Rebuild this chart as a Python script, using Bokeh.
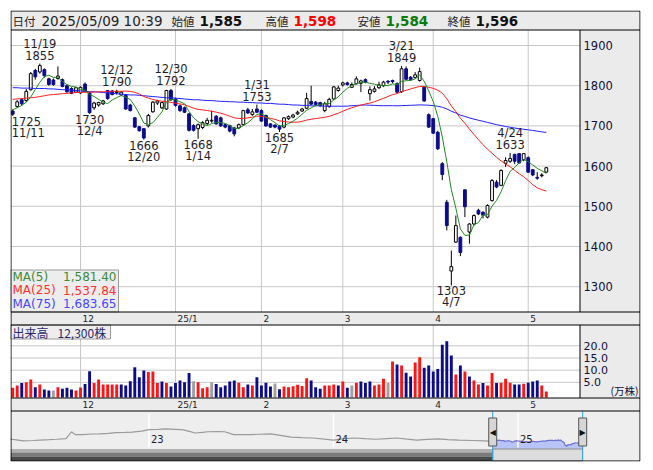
import pandas as pd
from bokeh.plotting import figure
from bokeh.models import Range1d, ColumnDataSource
from bokeh.core.properties import value
from bokeh.embed import file_html
from bokeh.resources import INLINE

# ---------------------------------------------------------------- data
HOLIDAYS = ["2024-12-31", "2025-01-01", "2025-01-02", "2025-01-03", "2025-01-13",
            "2025-02-11", "2025-02-24", "2025-03-20", "2025-04-29", "2025-05-05", "2025-05-06"]
dates = [d for d in pd.bdate_range("2024-11-11", "2025-05-09")
         if d.strftime("%Y-%m-%d") not in HOLIDAYS]

OPEN = [1737, 1748, 1765, 1763, 1790, 1838, 1834, 1840, 1817, 1814,
        1818, 1815, 1800, 1793, 1784, 1782, 1804, 1782, 1745, 1752,
        1755, 1788, 1787, 1783, 1777, 1776, 1752, 1720, 1698, 1693,
        1700, 1735, 1757, 1745, 1742, 1788, 1767, 1750, 1745, 1730,
        1701, 1693, 1696, 1706, 1712, 1724, 1720, 1703, 1701, 1695,
        1695, 1703, 1740, 1728, 1742, 1738, 1726, 1705, 1702, 1700,
        1697, 1718, 1722, 1730, 1737, 1744, 1761, 1759, 1758, 1738,
        1748, 1767, 1788, 1802, 1807, 1796, 1805, 1806, 1815, 1780,
        1786, 1795, 1800, 1811, 1813, 1805, 1785, 1842, 1821, 1820,
        1813, 1796, 1728, 1718, 1684, 1606, 1510, 1339, 1411, 1423,
        1541, 1436, 1456, 1490, 1485, 1473, 1514, 1560, 1552, 1607,
        1612, 1629, 1631, 1616, 1621, 1591, 1572, 1576, 1585]
HIGH = [1741, 1764, 1768, 1792, 1834, 1842, 1855, 1843, 1820, 1818,
        1848, 1818, 1803, 1796, 1797, 1798, 1808, 1785, 1760, 1760,
        1765, 1789, 1789, 1790, 1786, 1778, 1755, 1722, 1700, 1695,
        1730, 1762, 1765, 1760, 1790, 1792, 1770, 1753, 1748, 1732,
        1704, 1706, 1712, 1720, 1738, 1727, 1723, 1706, 1703, 1697,
        1706, 1740, 1745, 1742, 1753, 1741, 1728, 1707, 1704, 1702,
        1722, 1726, 1730, 1738, 1745, 1782, 1800, 1762, 1760, 1760,
        1770, 1799, 1800, 1810, 1810, 1808, 1823, 1815, 1818, 1798,
        1799, 1810, 1812, 1814, 1815, 1808, 1849, 1848, 1824, 1834,
        1845, 1798, 1731, 1720, 1688, 1610, 1516, 1390, 1477, 1425,
        1541, 1458, 1480, 1494, 1488, 1505, 1568, 1565, 1592, 1622,
        1633, 1631, 1632, 1632, 1624, 1593, 1585, 1582, 1598]
LOW = [1725, 1745, 1750, 1759, 1788, 1815, 1830, 1820, 1800, 1800,
       1815, 1796, 1782, 1779, 1782, 1780, 1783, 1730, 1740, 1748,
       1752, 1765, 1776, 1778, 1774, 1740, 1736, 1695, 1686, 1666,
       1696, 1733, 1752, 1742, 1740, 1762, 1748, 1735, 1732, 1686,
       1686, 1668, 1692, 1702, 1708, 1703, 1698, 1694, 1684, 1674,
       1692, 1700, 1730, 1725, 1732, 1710, 1698, 1695, 1694, 1685,
       1694, 1715, 1719, 1727, 1735, 1742, 1752, 1750, 1748, 1734,
       1745, 1765, 1785, 1798, 1800, 1794, 1803, 1784, 1806, 1763,
       1783, 1792, 1797, 1804, 1806, 1782, 1782, 1814, 1812, 1818,
       1810, 1760, 1695, 1680, 1640, 1565, 1440, 1303, 1409, 1376,
       1473, 1407, 1452, 1478, 1470, 1470, 1512, 1545, 1550, 1598,
       1608, 1605, 1606, 1612, 1583, 1575, 1566, 1572, 1584]
CLOSE = [1729, 1760, 1755, 1786, 1830, 1822, 1850, 1825, 1803, 1803,
         1824, 1798, 1785, 1781, 1795, 1796, 1785, 1733, 1757, 1758,
         1762, 1768, 1778, 1786, 1784, 1742, 1738, 1697, 1688, 1670,
         1726, 1759, 1762, 1758, 1788, 1765, 1751, 1738, 1734, 1689,
         1689, 1703, 1708, 1714, 1714, 1705, 1700, 1697, 1687, 1680,
         1703, 1738, 1732, 1735, 1734, 1712, 1700, 1697, 1697, 1692,
         1720, 1723, 1727, 1734, 1742, 1768, 1754, 1753, 1750, 1755,
         1766, 1797, 1794, 1807, 1803, 1803, 1817, 1812, 1808, 1790,
         1792, 1802, 1809, 1809, 1810, 1784, 1842, 1816, 1815, 1827,
         1835, 1762, 1697, 1682, 1643, 1579, 1452, 1350, 1452, 1385,
         1499, 1456, 1477, 1481, 1478, 1502, 1564, 1548, 1589, 1614,
         1619, 1612, 1608, 1631, 1585, 1578, 1570, 1578, 1596]
PREV_CLOSE = 1718

# volume in units of 10,000 shares
VOLUME = [2.8, 3.7, 4.7, 5.1, 6.2, 3.0, 4.1, 2.1, 1.7, 1.7,
          3.0, 2.4, 2.8, 2.1, 1.7, 2.9, 4.3, 9.6, 4.7, 6.2,
          4.1, 4.1, 4.1, 4.1, 4.1, 3.7, 5.5, 11.2, 7.1, 9.9,
          9.2, 9.5, 4.7, 5.4, 4.7, 3.3, 4.7, 5.8, 5.1, 8.8,
          5.5, 5.1, 2.6, 3.0, 5.1, 4.3, 3.0, 3.7, 5.4, 5.8,
          4.8, 3.0, 4.1, 3.7, 7.1, 3.7, 4.8, 3.3, 4.5, 2.2,
          3.3, 3.0, 3.4, 4.0, 3.5, 6.7, 5.8, 3.0, 2.4, 3.7,
          3.7, 4.1, 3.7, 5.4, 2.8, 3.7, 4.8, 5.4, 4.7, 5.4,
          3.7, 4.1, 6.5, 4.7, 13.6, 12.3, 11.9, 8.9, 7.4, 13.1,
          15.3, 11.0, 11.9, 9.5, 10.5, 20.4, 21.9, 16.0, 8.2, 11.9,
          9.5, 7.4, 5.8, 4.1, 4.7, 3.7, 8.8, 4.7, 4.8, 6.5,
          4.8, 4.1, 4.1, 4.4, 4.8, 5.4, 5.8, 3.7, 1.23]

# moving-average values before enough closes are available in the window
MA5_HEAD = [1740, 1745, 1751, 1759]
MA25_HEAD = [1766, 1767, 1768, 1769, 1770, 1771, 1773, 1775, 1777, 1778, 1779, 1780,
             1781, 1782, 1783, 1783, 1784, 1784, 1784, 1785, 1785, 1785, 1786, 1786]
MA75_HEAD = [1795, 1795, 1794, 1794, 1794, 1793, 1793, 1793, 1792, 1792,
             1791, 1790, 1790, 1789, 1788, 1787, 1786, 1785, 1785, 1784,
             1783, 1782, 1781, 1780, 1779, 1778, 1777, 1777, 1776, 1775,
             1774, 1773, 1772, 1771, 1770, 1770, 1769, 1768, 1767, 1766,
             1765, 1765, 1764, 1763, 1763, 1762, 1761, 1761, 1760, 1760,
             1759, 1759, 1758, 1758, 1757, 1757, 1756, 1756, 1755, 1754,
             1754, 1753, 1752, 1752, 1751, 1751, 1750, 1750, 1750, 1749,
             1749, 1749, 1749, 1749]

PRICE_TICKS = [1900, 1800, 1700, 1600, 1500, 1400, 1300]
VOL_TICKS = [20.0, 15.0, 10.0, 5.0]
MONTH_LABELS = ["12", "25/1", "2", "3", "4", "5"]
YEARS = [2023, 2024, 2025]
YEAR_LABELS = ["23", "24", "25"]
HIGH_MARKS = ["11/19", "12/12", "12/30", "1/31", "3/21", "4/24"]
LOW_MARKS = ["11/11", "12/4", "12/20", "1/14", "2/7", "4/7"]

# long-range closing prices for the overview strip (year fraction, price)
NAV_T = [2022.24, 2022.28, 2022.32, 2022.37, 2022.41, 2022.46, 2022.50, 2022.55, 2022.58,
         2022.60, 2022.64, 2022.69, 2022.73, 2022.78, 2022.82, 2022.87, 2022.91, 2022.96,
         2023.00, 2023.05, 2023.09, 2023.14, 2023.18, 2023.22, 2023.25, 2023.29, 2023.32,
         2023.37, 2023.41, 2023.46, 2023.50, 2023.55, 2023.60, 2023.66, 2023.72, 2023.77,
         2023.83, 2023.89, 2023.95, 2024.00, 2024.05, 2024.11, 2024.17, 2024.23, 2024.29,
         2024.34, 2024.40, 2024.45, 2024.51, 2024.57, 2024.62, 2024.68, 2024.75, 2024.82]
NAV_P = [1928, 1850, 1768, 1800, 1832, 1860, 1896, 1950, 2470,
         2250, 2248, 2300, 2312, 2350, 2408, 2420, 2440, 2520,
         2632, 2650, 2696, 2660, 2632, 2500, 2376, 2430, 2472,
         2480, 2472, 2248, 2260, 2248, 2280, 2312, 2180, 2056,
         2020, 1992, 1900, 1832, 1920, 1992, 1940, 1896, 1950,
         1992, 1900, 1832, 1880, 1928, 1870, 1832, 1800, 1768]

N = len(CLOSE)
assert len(dates) == N == len(OPEN) == len(HIGH) == len(LOW) == len(VOLUME)


def moving(head, n):
    out = list(head)
    for i in range(len(head), N):
        out.append(sum(CLOSE[i - n + 1:i + 1]) / n)
    return out


MA5 = moving(MA5_HEAD, 5)
MA25 = moving(MA25_HEAD, 25)
MA75 = moving(MA75_HEAD, 75)

idx = list(range(N))
md = [f"{d.month}/{d.day}" for d in dates]
month_idx = [i for i in range(1, N) if dates[i].month != dates[i - 1].month]
tfrac = [d.year + (d.dayofyear - 1) / 365.0 for d in dates]

# ---------------------------------------------------------------- styles
NAVY = "#0c0c8a"
RED = "#ff1414"
GRAY = "#a0a0a0"
PANEL = "#ebebeb"
GRID = "#c8c8c8"
INK = "#1e1e2a"
FONT = value("DejaVu Sans")
JP = value("Noto Sans CJK JP")

# ---------------------------------------------------------------- figure
NX0, NX1 = 2022.2493, 2025.6640
p = figure(width=653, height=470, output_backend="svg", toolbar_location=None,
           x_range=Range1d(-0.4865, 138.833), y_range=Range1d(865.17, 1987.06),
           x_axis_location=None, y_axis_location=None, title_location=None,
           min_border_left=10, min_border_right=13, min_border_top=10, min_border_bottom=9)
p.grid.visible = False
p.outline_line_color = None
p.background_fill_color = "white"
p.border_fill_color = "white"
p.extra_x_ranges = {"px": Range1d(10, 640), "navx": Range1d(NX0, NX1)}
p.extra_y_ranges = {"py": Range1d(461, 10), "vol": Range1d(-27.43, 157.41),
                    "navy": Range1d(184.6, 34877.0)}
VOL_FLOOR = -1.2


def box(l, r, t, b, fill, line=None, alpha=1.0):
    p.quad(left=[l], right=[r], top=[t], bottom=[b], fill_color=fill, fill_alpha=alpha,
           line_color=line, x_range_name="px", y_range_name="py")


def txt(x, y, s, size, color=INK, align="left", font=FONT, style="normal",
        xr="default", yr="default", xo=0, yo=0, baseline="middle"):
    p.text(x=x, y=y, text=s, text_font=font, text_font_size=f"{size}px", text_color=color,
           text_align=align, text_baseline=baseline, text_font_style=style,
           x_offset=xo, y_offset=yo, x_range_name=xr, y_range_name=yr)


# panel backgrounds
box(10, 640, 10, 29.5, PANEL)
box(579.5, 640, 29.5, 311.5, PANEL)
box(10, 640, 311.5, 324.5, PANEL)
box(579.5, 640, 324.5, 397.5, PANEL)
box(10, 640, 397.5, 410.5, PANEL)
box(10, 640, 410.5, 461, "#eeeeee")

# grid lines
p.segment(x0=month_idx, x1=month_idx, y0=[29.5] * 6, y1=[311.5] * 6,
          line_color=GRID, y_range_name="py")
p.segment(x0=[10] * 7, x1=[579.5] * 7, y0=PRICE_TICKS, y1=PRICE_TICKS,
          line_color=GRID, x_range_name="px")
p.segment(x0=month_idx, x1=month_idx, y0=[324.5] * 6, y1=[397.5] * 6,
          line_color=GRID, y_range_name="py")
p.segment(x0=[10] * 4, x1=[579.5] * 4, y0=VOL_TICKS, y1=VOL_TICKS,
          line_color=GRID, x_range_name="px", y_range_name="vol")

# overview strip
sel0, sel1 = tfrac[0], tfrac[-1]
p.varea(x=tfrac, y1=[184.6] * N, y2=CLOSE, fill_color="#b7c4f5",
        x_range_name="navx", y_range_name="navy")
p.segment(x0=YEARS, x1=YEARS, y0=[413] * 3, y1=[447] * 3, line_color="white",
          line_width=1.5, x_range_name="navx", y_range_name="py")
p.line(x=NAV_T + [tfrac[0]], y=NAV_P + [CLOSE[0]], line_color="#9a9a9a", line_width=1.2,
       x_range_name="navx", y_range_name="navy")
p.line(x=tfrac, y=CLOSE, line_color="#7070d0", line_width=1.2,
       x_range_name="navx", y_range_name="navy")
txt(YEARS, [438] * 3, YEAR_LABELS, 10, xr="navx", yr="py", xo=2)
# scroll bar
for top, bot, col in [(448.5, 452, "#b0b0b0"), (452, 456, "#7a7a7a"), (456, 460.5, "#4a4a4a")]:
    p.quad(left=[NX0], right=[sel0], top=[top], bottom=[bot], fill_color=col, line_color=None,
           x_range_name="navx", y_range_name="py")
p.quad(left=[sel0], right=[sel1], top=[448.5], bottom=[460.5], fill_color="#dcdcdc",
       line_color="#8a8a8a", x_range_name="navx", y_range_name="py")
p.quad(left=[sel1], right=[NX1], top=[448.5], bottom=[460.5], fill_color="#eeeeee",
       line_color=None, x_range_name="navx", y_range_name="py")
p.segment(x0=[sel0, sel1], x1=[sel0, sel1], y0=[411, 411], y1=[460.5, 460.5],
          line_color="#29a3e0", x_range_name="navx", y_range_name="py")
p.rect(x=[sel0, sel1], y=[431.5, 431.5], width=8, height=28, width_units="screen",
       height_units="screen", fill_color="#d6d6d6", line_color="#555555",
       x_range_name="navx", y_range_name="py")
txt([sel0, sel1], [431.5, 431.5], ["◀", "▶"], 8, color="#111111", align="center",
    xr="navx", yr="py")

# volume bars
prev = [PREV_CLOSE] + CLOSE[:-1]
vcol = [RED if c > q else NAVY if c < q else GRAY for c, q in zip(CLOSE, prev)]
p.vbar(x=idx, width=0.64, top=VOLUME, bottom=VOL_FLOOR, fill_color=vcol, line_color=None,
       y_range_name="vol")

# candles
up = [c >= o for o, c in zip(OPEN, CLOSE)]
csrc = ColumnDataSource(dict(
    x=idx, top=[max(o, c) for o, c in zip(OPEN, CLOSE)],
    bottom=[min(o, c) for o, c in zip(OPEN, CLOSE)],
    fill=["white" if u else NAVY for u in up],
    line=["black" if u else NAVY for u in up]))
p.segment(x0=idx, x1=idx, y0=LOW, y1=HIGH, line_color="black", line_width=1)
p.vbar(x="x", width=0.62, top="top", bottom="bottom", fill_color="fill", line_color="line",
       source=csrc)

# moving averages
p.line(idx, MA75, line_color="#2020ff", line_width=1)
p.line(idx, MA25, line_color="#ff2020", line_width=1)
p.line(idx, MA5, line_color="#238a23", line_width=1)

# high / low markers
for m in HIGH_MARKS:
    i = md.index(m)
    txt([i], [HIGH[i]], [m], 11.5, align="center", yo=-20)
    txt([i], [HIGH[i]], [str(HIGH[i])], 11.5, align="center", yo=-8.5)
for m in LOW_MARKS:
    i = md.index(m)
    al, xo = ("left", -1) if i == 0 else ("center", 0)
    txt([i], [LOW[i]], [str(LOW[i])], 11.5, align=al, xo=xo, yo=5.5)
    txt([i], [LOW[i]], [m], 11.5, align=al, xo=xo, yo=17)

# legend box
box(10, 118, 269.5, 311.5, "#ececec", line="#9a9a9a", alpha=0.95)
ma_names = ["MA(5)", "MA(25)", "MA(75)"]
ma_cols = ["#3a8a3a", "#ff3030", "#4646ff"]
ma_last = [f"{MA5[-1]:,.2f}", f"{MA25[-1]:,.2f}", f"{MA75[-1]:,.2f}"]
rows = [276, 289.5, 303]
for k in range(3):
    txt([12], [rows[k]], [ma_names[k]], 12, color=ma_cols[k], xr="px", yr="py")
    txt([116], [rows[k]], [ma_last[k]], 12, color=ma_cols[k], align="right",
        xr="px", yr="py")

# volume caption
box(10, 110, 324.5, 338.5, "#ececec", line="#9a9a9a", alpha=0.95)
txt([12], [331.5], ["出来高"], 12, color="#2a2a6a", font=JP, xr="px", yr="py")
txt([57], [331.5], [f"{int(round(VOLUME[-1] * 10000)):,}株"], 12, color="#2a2a6a",
    font=JP, xr="px", yr="py")

# axis labels
txt([583] * 7, PRICE_TICKS, [str(v) for v in PRICE_TICKS], 11.5, color="#10103a", xr="px")
txt([583] * 4, VOL_TICKS, [f"{v:.1f}" for v in VOL_TICKS], 11, color="#10103a",
    xr="px", yr="vol")
txt([610], [390], ["(万株)"], 10.5, color="#10103a", font=JP, xr="px", yr="py")
txt(month_idx, [318] * 6, MONTH_LABELS, 9, yr="py", xo=2)
txt(month_idx, [404] * 6, MONTH_LABELS, 9, yr="py", xo=2)

# header
o, h, l, c = OPEN[-1], HIGH[-1], LOW[-1], CLOSE[-1]
stamp = dates[-1].strftime("%Y/%m/%d") + " 10:39"
txt([12], [20], ["日付"], 11.5, font=JP, xr="px", yr="py")
txt([41], [20], [stamp], 13.5, xr="px", yr="py")
for xl, xv, lab, val, col in [(171, 199, "始値", o, "#111111"), (265, 293, "高値", h, "#ff0000"),
                              (357, 385, "安値", l, "#0a7a0a"), (447, 475, "終値", c, "#111111")]:
    txt([xl], [20], [lab], 11.5, font=JP, xr="px", yr="py")
    txt([xv], [20], [f"{val:,}"], 13.5, color=col, style="bold", xr="px", yr="py")

# frame lines
p.quad(left=[10.5], right=[639.5], top=[10.5], bottom=[460.5], fill_color=None,
       line_color="black", x_range_name="px", y_range_name="py")
p.segment(x0=[10.5] * 5, x1=[639.5] * 5, y0=[29.5, 311.5, 324.5, 397.5, 410.5],
          y1=[29.5, 311.5, 324.5, 397.5, 410.5], line_color="black",
          x_range_name="px", y_range_name="py")
p.segment(x0=[579.5, 579.5], x1=[579.5, 579.5], y0=[29.5, 324.5], y1=[311.5, 397.5],
          line_color="black", x_range_name="px", y_range_name="py")

open("out.html", "w").write(file_html(p, INLINE))
